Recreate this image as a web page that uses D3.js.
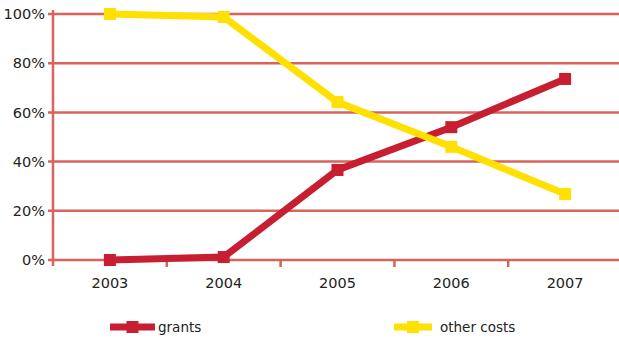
<!DOCTYPE html>
<html><head><meta charset="utf-8">
<script src="https://cdn.jsdelivr.net/npm/d3@7"></script>
<style>body{margin:0;background:#fff}svg{display:block}text{font-family:"DejaVu Sans",Verdana,sans-serif}</style>
</head><body>
<svg id="c" width="619" height="338"></svg>
<script>
const years = ["2003","2004","2005","2006","2007"];
const grants = [0, 1.2, 36.6, 54, 73.6];
const otherCosts = [100, 98.8, 64.2, 46, 26.8];
const yTicks = [0, 20, 40, 60, 80, 100];
const seriesNames = ["grants", "other costs"];

const svg = d3.select("#c");
const gridColor = "#d9625a";
const colors = ["#c81e32", "#ffe000"];
const x = d3.scaleBand().domain(years).range([53, 622]);
const y = d3.scaleLinear().domain([0, 100]).range([260, 14]);

svg.append("g").selectAll("line").data(yTicks).join("line")
  .attr("x1", 48).attr("x2", 619)
  .attr("y1", d => y(d)).attr("y2", d => y(d))
  .attr("stroke", gridColor).attr("stroke-width", 2.5);

svg.append("line").attr("x1", 53).attr("x2", 53).attr("y1", 10).attr("y2", 266)
  .attr("stroke", gridColor).attr("stroke-width", 2.5);

svg.append("g").selectAll("text").data(yTicks).join("text")
  .attr("x", 45).attr("y", d => y(d)).attr("dy", "0.36em")
  .attr("text-anchor", "end").attr("font-size", 14.5).attr("fill", "#222")
  .text(d => d + "%");

const bounds = years.slice(1).map(d => x(d));
svg.append("g").selectAll("line").data(bounds).join("line")
  .attr("x1", d => d).attr("x2", d => d).attr("y1", 259).attr("y2", 267)
  .attr("stroke", gridColor).attr("stroke-width", 2.5);

svg.append("g").selectAll("text").data(years).join("text")
  .attr("x", d => x(d) + x.bandwidth() / 2).attr("y", 283).attr("dy", "0.36em")
  .attr("text-anchor", "middle").attr("font-size", 14.5).attr("fill", "#222")
  .text(d => d);

const line = d3.line().x((d, i) => x(years[i]) + x.bandwidth() / 2).y(d => y(d));
[grants, otherCosts].forEach((data, k) => {
  const g = svg.append("g");
  g.append("path").datum(data).attr("d", line).attr("fill", "none")
    .attr("stroke", colors[k]).attr("stroke-width", 7).attr("stroke-linejoin", "miter");
  g.selectAll("rect").data(data).join("rect")
    .attr("x", (d, i) => x(years[i]) + x.bandwidth() / 2 - 6)
    .attr("y", d => y(d) - 6).attr("width", 12).attr("height", 12)
    .attr("fill", colors[k]);
});

const legX = [110, 394];
const legTextX = [158, 440];
seriesNames.forEach((n, k) => {
  const g = svg.append("g");
  g.append("line").attr("x1", legX[k]).attr("x2", legX[k] + 45 - (k ? 7 : 0))
    .attr("y1", 327).attr("y2", 327).attr("stroke", colors[k]).attr("stroke-width", 7);
  const mx = legX[k] + (45 - (k ? 7 : 0)) / 2;
  g.append("rect").attr("x", mx - 6).attr("y", 321).attr("width", 12).attr("height", 12)
    .attr("fill", colors[k]);
  g.append("text").attr("x", legTextX[k]).attr("y", 327).attr("dy", "0.36em")
    .attr("font-size", 13.5).attr("fill", "#222").text(n);
});
</script>
</body></html>
